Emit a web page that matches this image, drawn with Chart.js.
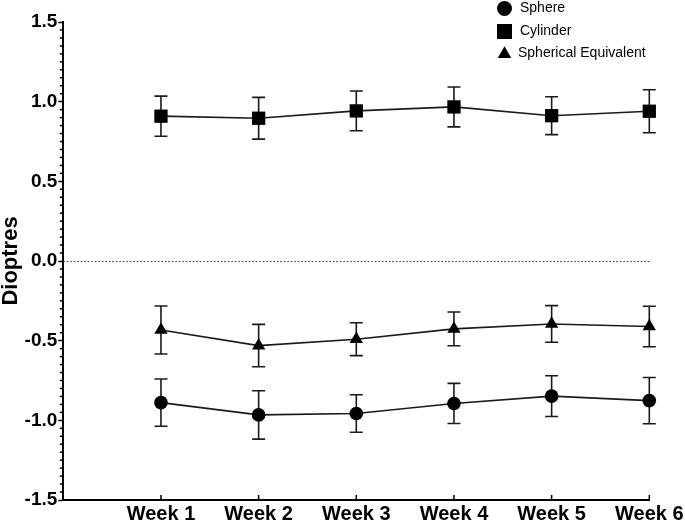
<!DOCTYPE html>
<html>
<head>
<meta charset="utf-8">
<script src="https://cdn.jsdelivr.net/npm/chart.js@4/dist/chart.umd.min.js"></script>
<style>
  html, body { margin: 0; padding: 0; background: #fff; }
  #wrap { width: 685px; height: 521px; position: relative; }
</style>
</head>
<body>
<div id="wrap"><canvas id="c" width="685" height="521"></canvas></div>
<script>
// ---- data ----
const weeks = [1, 2, 3, 4, 5, 6];
const tickLabels = ["Week 1", "Week 2", "Week 3", "Week 4", "Week 5", "Week 6"];
const seriesNames = ["Sphere", "Cylinder", "Spherical Equivalent"];
const sphere = [-0.889, -0.966, -0.957, -0.894, -0.848, -0.876];
const sphereErr = [0.148, 0.152, 0.118, 0.126, 0.128, 0.145];
const cylinder = [0.909, 0.896, 0.942, 0.967, 0.912, 0.940];
const cylinderErr = [0.126, 0.131, 0.125, 0.125, 0.119, 0.135];
const sphEq = [-0.433, -0.531, -0.491, -0.426, -0.395, -0.411];
const sphEqErr = [0.151, 0.133, 0.103, 0.106, 0.115, 0.127];
const yMajorTicks = [-1.5, -1.0, -0.5, 0.0, 0.5, 1.0, 1.5];

const toPts = (vals) => vals.map((v, i) => ({ x: weeks[i], y: v }));
const FONT = "'Liberation Sans', Arial, sans-serif";

function ds(label, vals, errs, style, radius) {
  return {
    label: label,
    data: toPts(vals),
    errors: errs,
    borderColor: '#1a1a1a',
    borderWidth: 1.6,
    backgroundColor: '#000',
    pointBackgroundColor: '#000',
    pointBorderColor: '#000',
    pointBorderWidth: 0,
    pointStyle: style,
    pointRadius: radius,
    pointHoverRadius: radius,
    tension: 0,
    fill: false,
    clip: false
  };
}

const extras = {
  id: 'extras',
  beforeDatasetsDraw(chart) {
    const ctx = chart.ctx;
    const xs = chart.scales.x, ys = chart.scales.y;
    const area = chart.chartArea;
    ctx.save();
    // dotted zero line
    const y0 = Math.round(ys.getPixelForValue(0)) + 0.5;
    ctx.strokeStyle = '#333';
    ctx.lineWidth = 1;
    ctx.setLineDash([1.5, 2]);
    ctx.beginPath();
    ctx.moveTo(area.left, y0);
    ctx.lineTo(area.right, y0);
    ctx.stroke();
    ctx.setLineDash([]);
    // minor y ticks every 0.05
    ctx.strokeStyle = '#000';
    ctx.lineWidth = 1.5;
    for (let k = -30; k <= 30; k++) {
      if (k % 10 === 0) continue;
      const py = ys.getPixelForValue(k * 0.05);
      ctx.beginPath();
      ctx.moveTo(area.left - 3.5, py);
      ctx.lineTo(area.left, py);
      ctx.stroke();
    }
    // x ticks pointing up (inside)
    ctx.lineWidth = 1.5;
    weeks.forEach(w => {
      const px = xs.getPixelForValue(w);
      ctx.beginPath();
      ctx.moveTo(px, area.bottom);
      ctx.lineTo(px, area.bottom - 5);
      ctx.stroke();
    });
    // error bars
    ctx.strokeStyle = '#1a1a1a';
    ctx.lineWidth = 1.6;
    chart.data.datasets.forEach((d, di) => {
      d.data.forEach((p, i) => {
        const px = xs.getPixelForValue(p.x);
        const top = ys.getPixelForValue(p.y + d.errors[i]);
        const bot = ys.getPixelForValue(p.y - d.errors[i]);
        const cw = 6.5;
        ctx.beginPath();
        ctx.moveTo(px, top); ctx.lineTo(px, bot);
        ctx.moveTo(px - cw, top); ctx.lineTo(px + cw, top);
        ctx.moveTo(px - cw, bot); ctx.lineTo(px + cw, bot);
        ctx.stroke();
      });
    });
    ctx.restore();
  },
  afterDraw(chart) {
    // legend
    const ctx = chart.ctx;
    ctx.save();
    const items = [
      { y: 8.5, style: 'circle', r: 7.5 },
      { y: 31.5, style: 'rect', r: 10.6 },
      { y: 53, style: 'triangle', r: 7.8 }
    ];
    ctx.fillStyle = '#000';
    ctx.strokeStyle = '#000';
    ctx.font = '14px ' + FONT;
    ctx.textBaseline = 'middle';
    ctx.textAlign = 'left';
    items.forEach((it, i) => {
      Chart.helpers.drawPoint(ctx, { pointStyle: it.style, radius: it.r, borderWidth: 0, rotation: 0 }, 504.5, it.y + (it.style === 'triangle' ? 1 : 0));
      ctx.fillStyle = '#000';
      ctx.fillText(chart.data.datasets[i].label, i === 2 ? 518 : 520, it.y);
    });
    ctx.restore();
  }
};

new Chart(document.getElementById('c'), {
  type: 'line',
  data: {
    datasets: [
      ds(seriesNames[0], sphere, sphereErr, 'circle', 6.8),
      ds(seriesNames[1], cylinder, cylinderErr, 'rect', 9.4),
      ds(seriesNames[2], sphEq, sphEqErr, 'triangle', 7.7)
    ]
  },
  options: {
    responsive: false,
    animation: false,
    events: [],
    layout: { padding: { top: 22, right: 35.7, left: 0, bottom: 0 } },
    plugins: { legend: { display: false }, tooltip: { enabled: false } },
    scales: {
      x: {
        type: 'linear',
        min: 0,
        max: 6,
        afterBuildTicks(scale) { scale.ticks = weeks.map(v => ({ value: v })); },
        afterFit(scale) { scale.height = 21; scale.paddingLeft = 0; scale.paddingRight = 0; },
        grid: { display: false, drawTicks: false },
        border: { display: true, color: '#000', width: 2 },
        ticks: {
          color: '#000',
          padding: 2,
          maxRotation: 0,
          autoSkip: false,
          font: { family: FONT, size: 20, weight: 'bold' },
          callback(value) { const i = weeks.indexOf(value); return i >= 0 ? tickLabels[i] : ''; }
        }
      },
      y: {
        type: 'linear',
        min: -1.5,
        max: 1.5,
        afterBuildTicks(scale) { scale.ticks = yMajorTicks.map(v => ({ value: v })); },
        afterFit(scale) { scale.width = 63.3; scale.paddingTop = 0; scale.paddingBottom = 0; },
        grid: { display: true, drawOnChartArea: false, drawTicks: true, tickLength: 5, tickWidth: 1.5, tickColor: '#000' },
        border: { display: true, color: '#000', width: 2 },
        title: {
          display: true,
          text: 'Dioptres',
          color: '#000',
          font: { family: FONT, size: 22, weight: 'bold', lineHeight: 1 },
          padding: { top: 0, bottom: 0 }
        },
        ticks: {
          color: '#000',
          padding: 1,
          font: { family: FONT, size: 19, weight: 'bold' },
          callback(value) { return value.toFixed(1); }
        }
      }
    }
  },
  plugins: [extras]
});
</script>
</body>
</html>
